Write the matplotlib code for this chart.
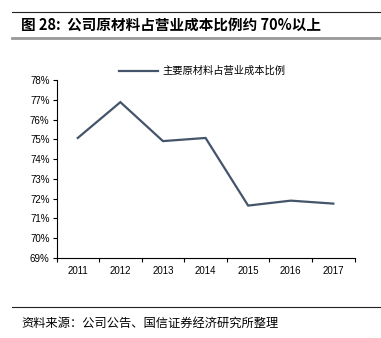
import matplotlib
matplotlib.use("Agg")
import matplotlib.pyplot as plt
from matplotlib.lines import Line2D
from matplotlib.ticker import FuncFormatter, MultipleLocator

plt.rcParams['font.family'] = ['Noto Sans CJK SC', 'DejaVu Sans']

years = ['2011', '2012', '2013', '2014', '2015', '2016', '2017']
ratio = [75.07, 76.88, 74.91, 75.07, 71.65, 71.90, 71.75]
series_name = '主要原材料占营业成本比例'
title = '图 28:  公司原材料占营业成本比例约 70%以上'
source = '资料来源：公司公告、国信证券经济研究所整理'

W, H = 381, 338
fig = plt.figure(figsize=(W / 100, H / 100), dpi=100)
ax = fig.add_axes([56.5 / W, 1 - 258 / H, (354.6 - 56.5) / W, (258 - 80) / H])

color = '#44546A'
x = list(range(len(years)))
ax.plot(x, ratio, color=color, lw=1.6, solid_joinstyle='miter')
ax.set_xlim(-0.5, len(years) - 0.5)
ax.set_ylim(69, 78)
ax.yaxis.set_major_locator(MultipleLocator(1))
ax.yaxis.set_major_formatter(FuncFormatter(lambda v, p: f'{v:.0f}%'))
ax.set_xticks([i - 0.5 for i in range(len(years) + 1)])
ax.set_xticklabels([])
ax.set_xticks(x, minor=True)
ax.set_xticklabels(years, minor=True)
ax.tick_params(axis='x', which='minor', length=0, pad=6)
ax.tick_params(axis='x', which='major', length=3, width=0.8, direction='out')
ax.tick_params(axis='y', length=3, width=0.8, direction='out', pad=2)
for lab in ax.get_yticklabels() + ax.get_xticklabels(minor=True):
    lab.set_fontfamily(['Liberation Sans', 'DejaVu Sans'])
    lab.set_fontsize(7)
for s in ['top', 'right']:
    ax.spines[s].set_visible(False)
for s in ['left', 'bottom']:
    ax.spines[s].set_linewidth(0.8)

leg = ax.legend([Line2D([0], [0], color=color, lw=1.6)], [series_name],
                loc='upper center', bbox_to_anchor=(0.49, 1.13), frameon=False,
                fontsize=7.4, handlelength=3.7, handletextpad=0.5)

# header lines and title
fig.add_artist(Line2D([12 / W, 1], [1 - 11.5 / H] * 2, color='#222222', lw=0.8))
fig.add_artist(Line2D([12 / W, 1], [1 - 38 / H] * 2, color='#999999', lw=2.0))
fig.text(21 / W, 1 - 25 / H, title, fontsize=10.5, fontweight='bold', va='center', ha='left',
         family=['Noto Sans CJK SC', 'DejaVu Sans'])
fig.add_artist(Line2D([12 / W, 1], [1 - 307 / H] * 2, color='#222222', lw=0.8))
fig.text(21 / W, 1 - 323 / H, source, fontsize=8.8, va='center', ha='left')

fig.savefig('out.png', dpi=100)
